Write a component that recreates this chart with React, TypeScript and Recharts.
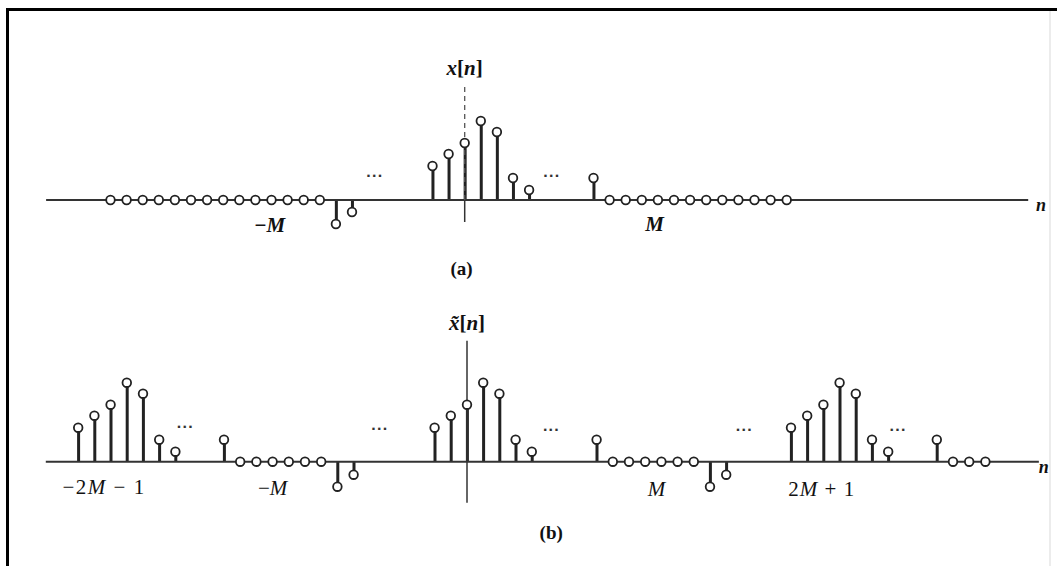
import React from 'react';
import { ComposedChart, Bar, Scatter, XAxis, YAxis, ReferenceLine, ReferenceDot } from 'recharts';

// ---------- panel (a): x[n] ----------
const topStemN = [-8, -7, -2, -1, 0, 1, 2, 3, 4, 8];
const topStemV = [-24, -12, 34, 46, 57, 79, 68, 22, 10, 22];
const topZeroN = [-22, -21, -20, -19, -18, -17, -16, -15, -14, -13, -12, -11, -10, -9,
  9, 10, 11, 12, 13, 14, 15, 16, 17, 18, 19, 20];
const topDotsN = [-5.6, 5.4];
const topDotsV = [25, 25];

// ---------- panel (b): periodic x~[n] ----------
const botStemN = [-24, -23, -22, -21, -20, -19, -18, -15, -8, -7,
  -2, -1, 0, 1, 2, 3, 4, 8, 15, 16,
  20, 21, 22, 23, 24, 25, 26, 29];
const botStemV = [34, 46, 57, 79, 68, 22, 10, 22, -25, -13,
  34, 46, 57, 79, 68, 22, 10, 22, -25, -13,
  34, 46, 57, 79, 68, 22, 10, 22];
const botZeroN = [-14, -13, -12, -11, -10, -9, 9, 10, 11, 12, 13, 14, 30, 31, 32];
const botDotsN = [-17.4, -5.4, 5.2, 17.1, 26.6];
const botDotsV = [35, 33, 32, 32, 32];

// axis extents & labels (in n / value units)
const xDomain: [number, number] = [-27, 36];
const yDomain: [number, number] = [-80, 160];
const axisStartN = -26;
const axisEndTopN = 35;
const axisEndBotN = 35.3;

type Part = { t: string; italic?: boolean; bold?: boolean };
type Lbl = { n: number; v: number; parts: Part[]; size: number; spacing?: number };

const topLabels: Lbl[] = [
  { n: 0, v: 132, parts: [{ t: 'x', italic: true, bold: true }, { t: '[', bold: true }, { t: 'n', italic: true, bold: true }, { t: ']', bold: true }], size: 21 },
  { n: -12.1, v: -25, parts: [{ t: '−', bold: true }, { t: 'M', italic: true, bold: true }], size: 21 },
  { n: 11.8, v: -24, parts: [{ t: 'M', italic: true, bold: true }], size: 21 },
  { n: 35.8, v: -5, parts: [{ t: 'n', italic: true, bold: true }], size: 18 },
  { n: -0.2, v: -68, parts: [{ t: '(a)', bold: true }], size: 19 },
];
const botLabels: Lbl[] = [
  { n: 0, v: 139, parts: [{ t: 'x̃', italic: true, bold: true }, { t: '[', bold: true }, { t: 'n', italic: true, bold: true }, { t: ']', bold: true }], size: 21 },
  { n: -22.4, v: -25, parts: [{ t: '−2' }, { t: 'M', italic: true }, { t: ' − 1' }], size: 21, spacing: 1.5 },
  { n: -12, v: -26, parts: [{ t: '−' }, { t: 'M', italic: true }], size: 21 },
  { n: 11.7, v: -27, parts: [{ t: 'M', italic: true }], size: 21 },
  { n: 21.9, v: -27, parts: [{ t: '2' }, { t: 'M', italic: true }, { t: ' + 1' }], size: 21, spacing: 1 },
  { n: 35.6, v: -5, parts: [{ t: 'n', italic: true, bold: true }], size: 18 },
  { n: 5.2, v: -70, parts: [{ t: '(b)', bold: true }], size: 19 },
];

const INK = '#222';

const Circle = (props: any) => {
  const { cx, cy } = props;
  if (cx == null || cy == null) return null;
  return <circle cx={cx} cy={cy} r={4.3} fill="#fff" stroke={INK} strokeWidth={1.8} />;
};

const makeText = (l: Lbl) => (props: any) => {
  const { cx, cy } = props;
  return (
    <text x={cx} y={cy} textAnchor="middle" dominantBaseline="central"
      fontFamily="'Liberation Serif', 'DejaVu Serif', serif" fontSize={l.size} fill="#111"
      letterSpacing={l.spacing ?? 0}>
      {l.parts.map((p, i) => (
        <tspan key={i} fontStyle={p.italic ? 'italic' : 'normal'} fontWeight={p.bold ? 'bold' : 'normal'}>{p.t}</tspan>
      ))}
    </text>
  );
};

const Ellipsis = (props: any) => {
  const { cx, cy } = props;
  return (
    <text x={cx} y={cy} textAnchor="middle" dominantBaseline="central"
      fontFamily="'DejaVu Sans', sans-serif" fontSize={13} fontWeight="bold" fill="#333" letterSpacing={0.8}>···</text>
  );
};

function Panel(props: {
  stemN: number[]; stemV: number[]; zeroN: number[]; dotsN: number[]; dotsV: number[];
  labels: Lbl[]; axisEnd: number; margin: any; width: number; height: number;
  vline: React.ReactNode;
}) {
  const { stemN, stemV, zeroN, dotsN, dotsV, labels, axisEnd, margin, width, height, vline } = props;
  const stems = stemN.map((n, i) => ({ n, v: stemV[i] }));
  const circles = [...stems, ...zeroN.map((n) => ({ n, v: 0 }))];
  return (
    <ComposedChart width={width} height={height} data={stems} margin={margin}>
      <XAxis dataKey="n" type="number" domain={xDomain} hide allowDataOverflow />
      <YAxis type="number" domain={yDomain} hide allowDataOverflow />
      <ReferenceLine segment={[{ x: axisStartN, y: 0 }, { x: axisEnd, y: 0 }]} stroke="#333" strokeWidth={2} />
      {vline}
      <Bar dataKey="v" barSize={3} fill={INK} isAnimationActive={false} />
      <Scatter data={circles} dataKey="v" shape={Circle} isAnimationActive={false} />
      {dotsN.map((n, i) => (
        <ReferenceDot key={'d' + i} x={n} y={dotsV[i]} r={0} ifOverflow="visible" shape={Ellipsis} />
      ))}
      {labels.map((l, i) => (
        <ReferenceDot key={'l' + i} x={l.n} y={l.v} r={0} ifOverflow="visible" shape={makeText(l)} />
      ))}
    </ComposedChart>
  );
}

export default function App() {
  return (
    <div style={{ position: 'absolute', left: 0, top: 0, width: 1057, height: 566, background: '#fff', overflow: 'hidden' }}>
      <div style={{ position: 'absolute', left: 6, top: 8, right: 0, bottom: 0, borderTop: '3px solid #000', borderLeft: '3px solid #000' }} />
      <div style={{ position: 'absolute', left: 1049, top: 11, width: 2, bottom: 0, background: '#ececec' }} />
      <div style={{ position: 'absolute', left: 0, top: 0 }}>
        <Panel
          stemN={topStemN} stemV={topStemV} zeroN={topZeroN} dotsN={topDotsN} dotsV={topDotsV}
          labels={topLabels} axisEnd={axisEndTopN}
          width={1057} height={300}
          margin={{ top: 40, right: 12.7, bottom: 20, left: 30 }}
          vline={[
            <ReferenceLine key="v1" segment={[{ x: 0, y: 0 }, { x: 0, y: 115 }]} stroke="#555" strokeWidth={1.3} strokeDasharray="5 4" />,
            <ReferenceLine key="v2" segment={[{ x: 0, y: -22 }, { x: 0, y: 0 }]} stroke="#333" strokeWidth={1.5} />,
          ]}
        />
      </div>
      <div style={{ position: 'absolute', left: 0, top: 300 }}>
        <Panel
          stemN={botStemN} stemV={botStemV} zeroN={botZeroN} dotsN={botDotsN} dotsV={botDotsV}
          labels={botLabels} axisEnd={axisEndBotN}
          width={1057} height={266}
          margin={{ top: 1.7, right: 6.8, bottom: 24.3, left: 29.6 }}
          vline={[
            <ReferenceLine key="v3" segment={[{ x: 0, y: -41 }, { x: 0, y: 121 }]} stroke="#333" strokeWidth={1.5} />,
          ]}
        />
      </div>
    </div>
  );
}
